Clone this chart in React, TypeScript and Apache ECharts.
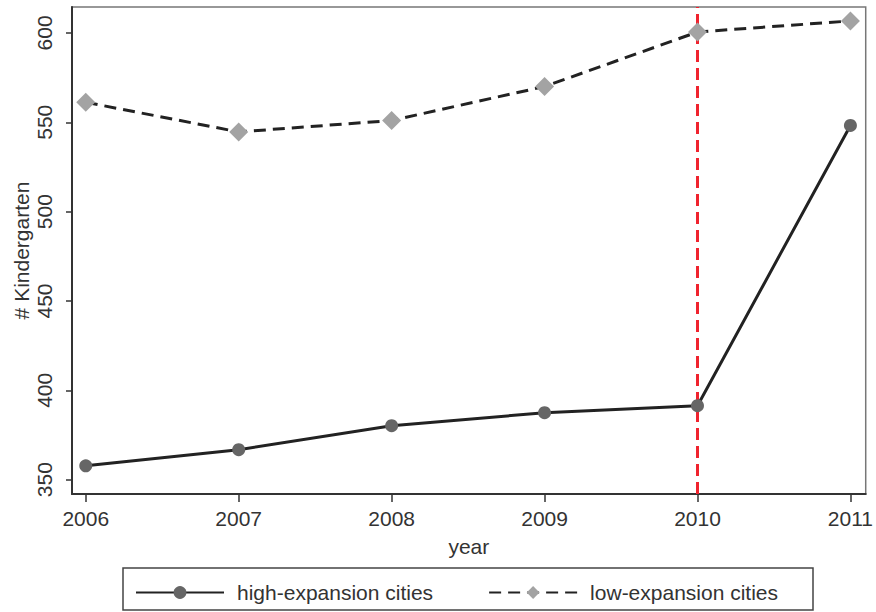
import React, { useEffect, useRef } from "react";
import * as echarts from "echarts";

const years = [2006, 2007, 2008, 2009, 2010, 2011];
const highExpansion = [357.8, 366.8, 380.2, 387.5, 391.4, 548.2];
const lowExpansion = [561.2, 544.6, 551.0, 570.0, 600.5, 606.7];
const yTicks = [350, 400, 450, 500, 550, 600];
const policyYear = 2010;

const FONT = "'Liberation Sans', Arial, Helvetica, sans-serif";

export default function App() {
  const ref = useRef<HTMLDivElement>(null);
  useEffect(() => {
    if (!ref.current) return;
    const chart = echarts.init(ref.current, undefined, { renderer: "svg" });
    chart.setOption({
      animation: false,
      backgroundColor: "#ffffff",
      textStyle: { fontFamily: FONT },
      grid: {
        left: 72,
        right: 10,
        top: 7,
        bottom: 118,
        show: true,
        borderColor: "#777777",
        borderWidth: 1.5,
      },
      xAxis: {
        type: "value",
        min: 2005.91,
        max: 2011.1,
        name: "year",
        nameLocation: "middle",
        nameGap: 42,
        nameMoveOverlap: false,
        nameTextStyle: { fontSize: 21, color: "#333", fontFamily: FONT },
        axisLine: { show: true, lineStyle: { color: "#333", width: 2 } },
        axisTick: {
          show: true,
          length: 8,
          customValues: years,
          lineStyle: { color: "#333", width: 1.5 },
        },
        axisLabel: {
          customValues: years,
          fontSize: 21,
          color: "#333",
          margin: 14,
          fontFamily: FONT,
          formatter: (v: number) => String(Math.round(v)),
        },
        splitLine: { show: false },
      },
      yAxis: {
        type: "value",
        min: 342,
        max: 614.5,
        name: "# Kindergarten",
        nameLocation: "middle",
        nameRotate: 90,
        nameGap: 40,
        nameMoveOverlap: false,
        nameTextStyle: { fontSize: 21, color: "#333", fontFamily: FONT },
        axisLine: { show: true, lineStyle: { color: "#333", width: 2 } },
        axisTick: {
          show: true,
          length: 6,
          customValues: yTicks,
          lineStyle: { color: "#333", width: 1.5 },
        },
        axisLabel: {
          customValues: yTicks,
          rotate: 90,
          fontSize: 21,
          color: "#333",
          margin: 17,
          fontFamily: FONT,
        },
        splitLine: { show: false },
      },
      legend: {
        left: 130,
        top: 577,
        itemWidth: 88,
        itemHeight: 16,
        itemGap: 55,
        textStyle: { fontSize: 21, color: "#333", fontFamily: FONT, padding: [0, 0, 0, 8] },
        data: ["high-expansion cities", "low-expansion cities"],
      },
      graphic: [
        {
          type: "rect",
          shape: { x: 123, y: 568, width: 690, height: 42 },
          style: { fill: "none", stroke: "#444", lineWidth: 1.5 },
          silent: true,
        },
      ],
      series: [
        {
          name: "high-expansion cities",
          type: "line",
          data: years.map((y, i) => [y, highExpansion[i]]),
          symbol: "circle",
          symbolSize: 13,
          itemStyle: { color: "#666666" },
          lineStyle: { color: "#222222", width: 3 },
          z: 3,
          markLine: {
            silent: true,
            symbol: "none",
            z: 2,
            label: { show: false },
            emphasis: { disabled: true },
            lineStyle: { color: "#f0232e", width: 3, type: [12, 6], opacity: 1 },
            data: [{ xAxis: policyYear }],
          },
        },
        {
          name: "low-expansion cities",
          type: "line",
          data: years.map((y, i) => [y, lowExpansion[i]]),
          symbol: "diamond",
          symbolSize: 19,
          itemStyle: { color: "#a3a3a3" },
          lineStyle: { color: "#222222", width: 3, type: [12, 7] },
          z: 4,
        },
      ],
    });
    return () => chart.dispose();
  }, []);
  return (
    <div
      ref={ref}
      style={{ position: "fixed", left: 0, top: 0, width: 876, height: 612 }}
    />
  );
}
